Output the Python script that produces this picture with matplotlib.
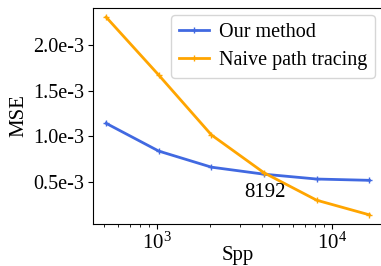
import numpy as np
import matplotlib.pyplot as plt
from matplotlib.ticker import FixedLocator, FuncFormatter

plt.rcParams['font.family'] = ['Liberation Serif', 'DejaVu Serif']
plt.rcParams['mathtext.fontset'] = 'stix'

# samples per pixel
spp = [512, 1024, 2048, 4096, 8192, 16384]
# MSE values
mse_ours = [1.142e-3, 0.838e-3, 0.662e-3, 0.585e-3, 0.532e-3, 0.518e-3]
mse_naive = [2.305e-3, 1.67e-3, 1.015e-3, 0.60e-3, 0.30e-3, 0.14e-3]
note_text = '8192'
note_xy = (4150, 0.385e-3)

fig = plt.figure(figsize=(3.81, 2.66), dpi=100)
ax = fig.add_axes([0.244, 0.158, 0.76, 0.812])

ax.plot(spp, mse_ours, color='#4169e1', lw=2, marker='+', ms=4, label='Our method')
ax.plot(spp, mse_naive, color='#ffa500', lw=2, marker='+', ms=4, label='Naive path tracing')
ax.set_xscale('log')

ax.yaxis.set_major_locator(FixedLocator([0.5e-3, 1.0e-3, 1.5e-3, 2.0e-3]))
ax.yaxis.set_major_formatter(FuncFormatter(lambda v, p: '%.1fe-3' % (v * 1e3)))
ax.set_ylim(0.04e-3, 2.405e-3)

ax.text(note_xy[0], note_xy[1], note_text, ha='center', va='center', fontsize=15)

ax.set_xlabel('Spp', fontsize=15, labelpad=-6)
ax.set_ylabel('MSE', fontsize=15, labelpad=3)
ax.tick_params(axis='y', labelsize=14.5, pad=3)
ax.tick_params(axis='x', labelsize=15, pad=3)
ax.legend(loc='upper right', fontsize=14.5, handlelength=1.5, borderpad=0.4,
          labelspacing=0.45, handletextpad=0.5, borderaxespad=0.35)

plt.savefig('out.png', dpi=100)
